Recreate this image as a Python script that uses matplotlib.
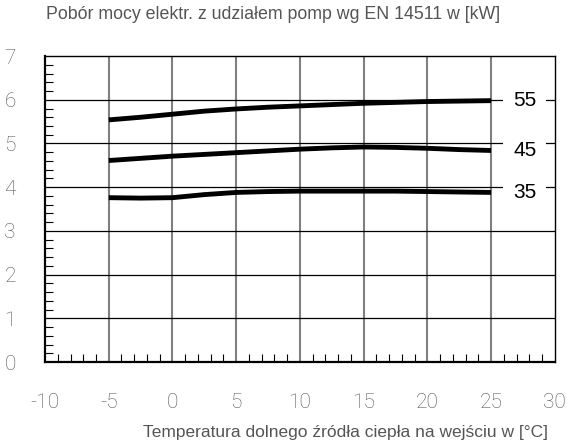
import matplotlib.pyplot as plt
from matplotlib.ticker import MultipleLocator

plt.rcParams["axes.unicode_minus"] = False

# temperatures of the source inlet [°C]
temps = [-5, -2.5, 0, 2.5, 5, 7.5, 10, 12.5, 15, 17.5, 20, 22.5, 25]

# power draw [kW] for each supply temperature
p55 = [5.54, 5.60, 5.67, 5.74, 5.79, 5.83, 5.86, 5.89, 5.92, 5.94, 5.96, 5.97, 5.98]
p45 = [4.61, 4.66, 4.71, 4.75, 4.79, 4.83, 4.87, 4.90, 4.92, 4.91, 4.89, 4.86, 4.84]
p35 = [3.76, 3.75, 3.76, 3.83, 3.88, 3.90, 3.91, 3.91, 3.91, 3.91, 3.90, 3.89, 3.88]
curve_labels = ["55", "45", "35"]

txt_col = "#555555"

fig = plt.figure(figsize=(5.72, 4.45), dpi=100)
ax = fig.add_axes([0.0787, 0.1865, 0.8913, 0.6875])

ax.set_xlim(-10, 30)
ax.set_ylim(0, 7)

# grid
for xv in range(-5, 30, 5):
    ax.axvline(xv, color="#808080", lw=1.5, zorder=1)
for yv in range(1, 7):
    ax.axhline(yv, color="black", lw=0.9, zorder=1)

for vals in (p55, p45, p35):
    ax.plot(temps, vals, color="black", lw=3.5, solid_capstyle="butt", zorder=3)

# curve labels
for vals, lab in zip((p55, p45, p35), curve_labels):
    ax.text(27.65, vals[-1], lab, fontsize=15, va="center", ha="center",
            color="black", family="Liberation Sans", zorder=4,
            bbox=dict(facecolor="white", edgecolor="none", pad=7))

ax.xaxis.set_major_locator(MultipleLocator(5))
ax.xaxis.set_minor_locator(MultipleLocator(1))
ax.yaxis.set_major_locator(MultipleLocator(1))
ax.yaxis.set_minor_locator(MultipleLocator(0.2))
ax.tick_params(which="both", direction="in", top=False, right=False, color="black")
ax.tick_params(which="major", length=0, labelsize=15, labelcolor=txt_col)
ax.tick_params(which="minor", length=6, width=0.8)
ax.tick_params(axis="x", which="major", pad=22)
ax.tick_params(axis="y", which="major", pad=21)
for lab in ax.get_xticklabels() + ax.get_yticklabels():
    lab.set_fontfamily("Roboto")
    lab.set_fontweight("light")

for s in ax.spines.values():
    s.set_linewidth(1.0)
ax.spines["left"].set_linewidth(1.6)
ax.spines["bottom"].set_linewidth(1.6)

fig.text(0.478, 0.968, "Pobór mocy elektr. z udziałem pomp wg EN 14511 w [kW]",
         ha="center", va="center", fontsize=12.8, color=txt_col, family="Liberation Sans")
fig.text(0.958, 0.027, "Temperatura dolnego źródła ciepła na wejściu w [°C]",
         ha="right", va="center", fontsize=12.5, color=txt_col, family="Liberation Sans")

fig.savefig("out.png", dpi=100)
